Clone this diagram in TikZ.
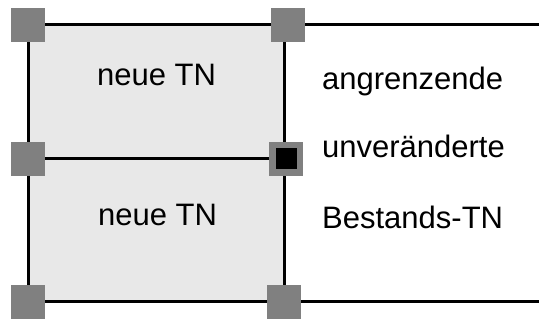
\documentclass[tikz,border=0pt]{standalone}
\usepackage{fontspec}
\setmainfont{Liberation Sans}
\begin{document}
\begin{tikzpicture}[x=1pt,y=-1pt,
  edge/.style={line width=3pt,black},
  knot/.style={fill=black!50,draw=none,minimum size=34pt,inner sep=0pt,outer sep=0pt},
  lbl/.style={font=\fontsize{31}{36}\selectfont,inner sep=0pt,anchor=base west}]
\useasboundingbox (0,0) rectangle (539,320);
\coordinate (tl) at (28,25);
\coordinate (tr) at (284,25);
\coordinate (ml) at (28,158.5);
\coordinate (mr) at (284,158.5);
\coordinate (bl) at (28,302);
\coordinate (br) at (284,302);
\coordinate (te) at (539,25);
\coordinate (be) at (539,302);
\fill[black!9] (tl) rectangle (br);
\draw[edge] (tl) -- (bl);
\draw[edge] (tr) -- (br);
\draw[edge] (tl) -- (te);
\draw[edge] (bl) -- (be);
\draw[edge] (ml) -- (mr);
\node[knot] (k1) at (28,25) {};
\node[knot] (k2) at (288,25) {};
\node[knot] (k3) at (28,159) {};
\node[knot] (k4) at (28,302) {};
\node[knot] (k5) at (284,302) {};
\node[knot] (k6) at (286,159) {};
\node[fill=black,minimum size=21pt,inner sep=0pt] (k6in) at (286,159) {};
\node[lbl,anchor=base] (n1) at (156.5,86) {neue TN};
\node[lbl,anchor=base] (n2) at (157.5,226) {neue TN};
\node[lbl] (r1) at (322,90) {angrenzende};
\node[lbl] (r2) at (322,157.3) {unveränderte};
\node[lbl] (r3) at (322,228.3) {Bestands-TN};
\end{tikzpicture}
\end{document}
